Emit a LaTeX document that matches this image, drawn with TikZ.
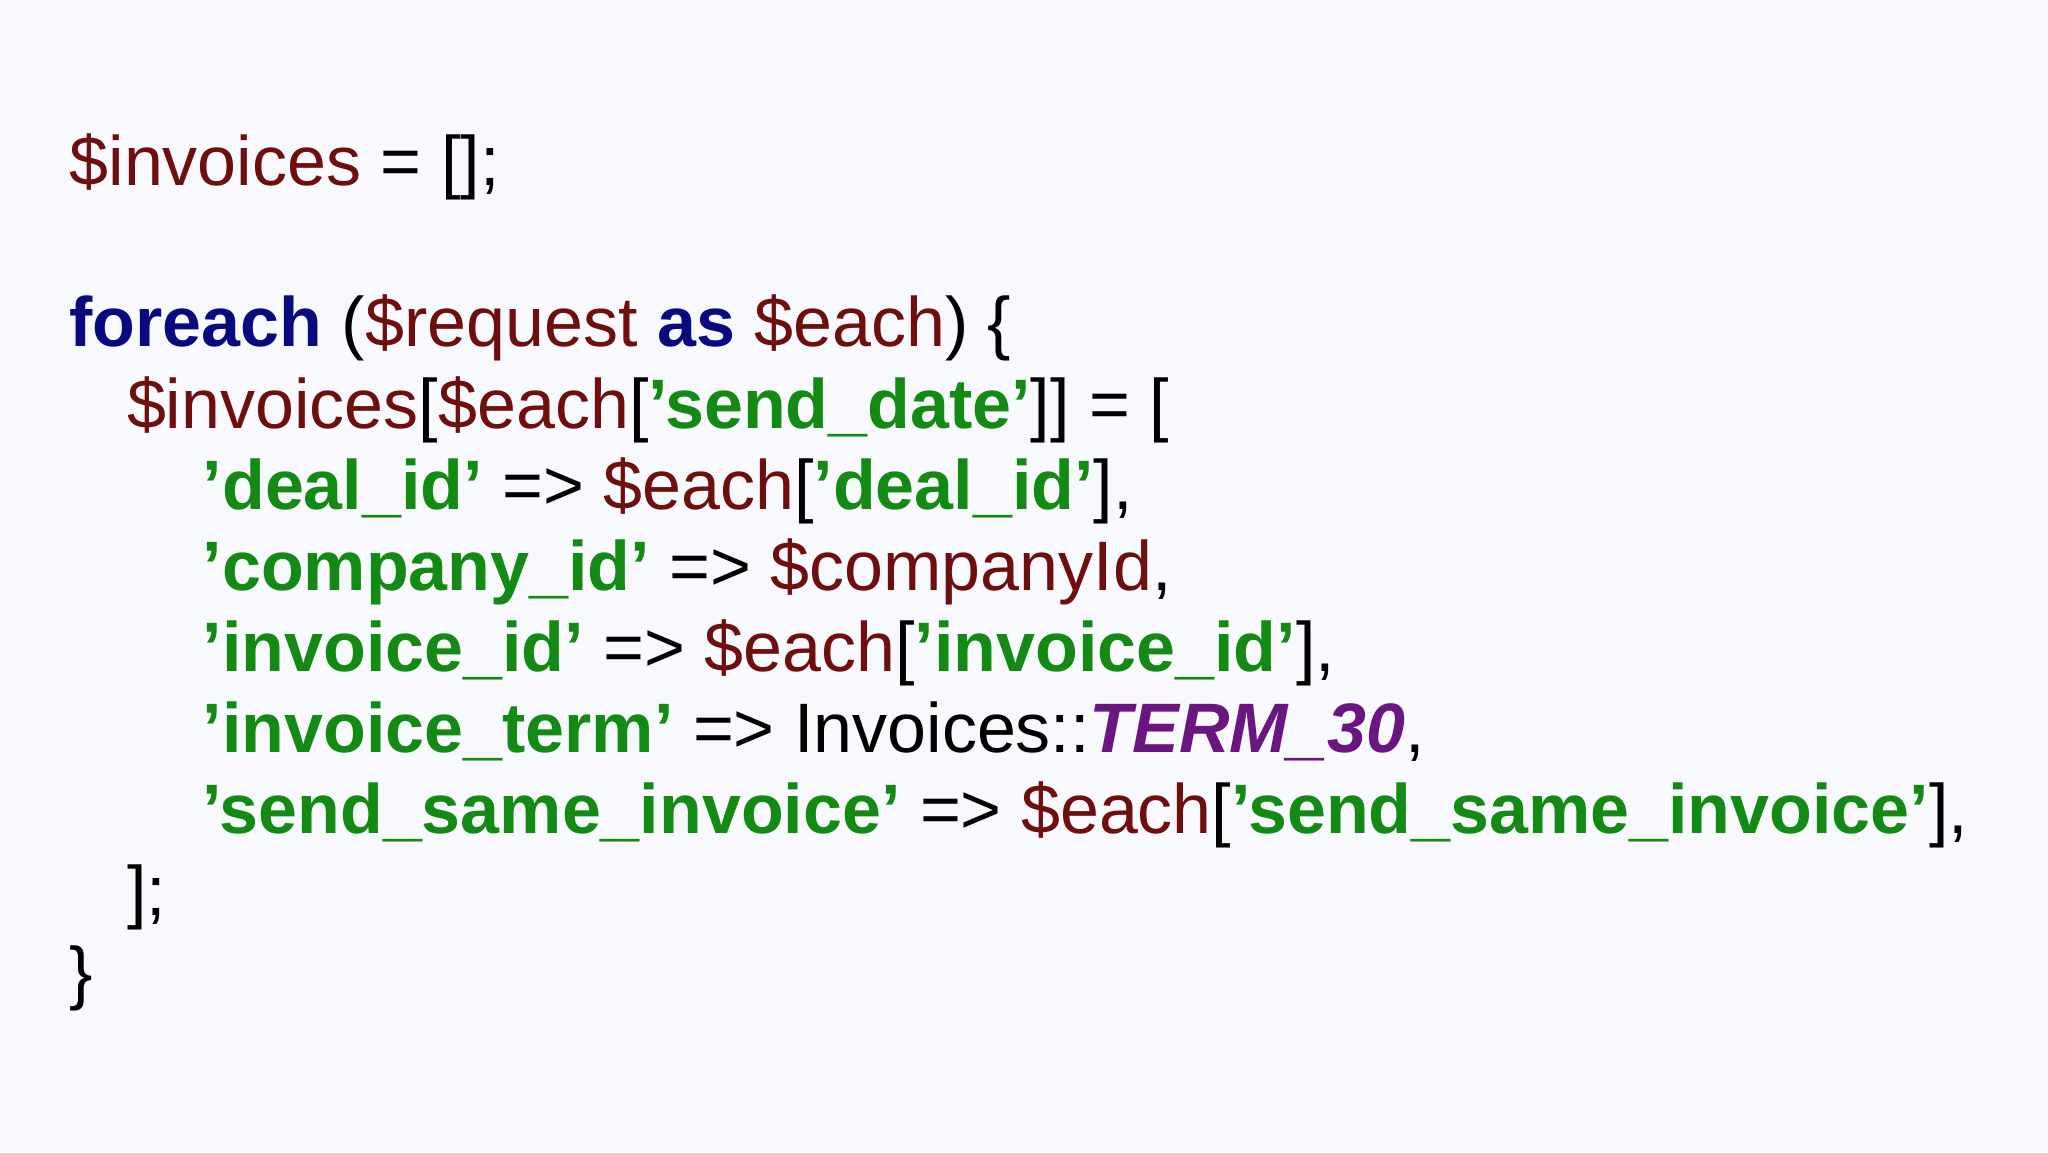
\documentclass[tikz,border=0pt]{standalone}
\usepackage{fontspec}
\setmainfont{Liberation Sans}
\definecolor{bg}{HTML}{F8F9FD}
\definecolor{cvar}{HTML}{6E0E0E}
\definecolor{cstr}{HTML}{138A13}
\definecolor{ckey}{HTML}{0A0A80}
\definecolor{ccon}{HTML}{6B1680}
\newcommand{\qq}{{\char39}}
\newcommand{\cV}[1]{\textcolor{cvar}{#1}}
\newcommand{\cS}[1]{\textcolor{cstr}{\bfseries\qq#1\qq}}
\newcommand{\cK}[1]{\textcolor{ckey}{\bfseries #1}}
\newcommand{\cC}[1]{\textcolor{ccon}{\bfseries\itshape #1}}
\begin{document}
\begin{tikzpicture}[x=1pt,y=-1pt,code/.style={anchor=base west,inner sep=0pt,font=\fontsize{35}{40}\selectfont}]
\fill[bg] (0,0) rectangle (1024,576);
\useasboundingbox (0,0) rectangle (1024,576);
\node[code] (l1) at (34.6,92.7) {\cV{\$invoices} = [];};
\node[code] (l2) at (34.6,173) {\cK{foreach} (\cV{\$request} \cK{as} \cV{\$each}) \{};
\node[code] (l3) at (63.3,214.2) {\cV{\$invoices}[\cV{\$each}[\cS{send\_date}]] = [};
\node[code] (l4) at (101.2,254.7) {\cS{deal\_id} => \cV{\$each}[\cS{deal\_id}],};
\node[code] (l5) at (101.2,295.2) {\cS{company\_id} => \cV{\$companyId},};
\node[code] (l6) at (101.2,335.6) {\cS{invoice\_id} => \cV{\$each}[\cS{invoice\_id}],};
\node[code] (l7) at (101.2,376.1) {\cS{invoice\_term} => Invoices::\cC{TERM\_30},};
\node[code] (l8) at (101.2,416.6) {\cS{send\_same\_invoice} => \cV{\$each}[\cS{send\_same\_invoice}],};
\node[code] (l9) at (63.3,457.8) {];};
\node[code] (l10) at (34.6,498.2) {\}};
\end{tikzpicture}
\end{document}
